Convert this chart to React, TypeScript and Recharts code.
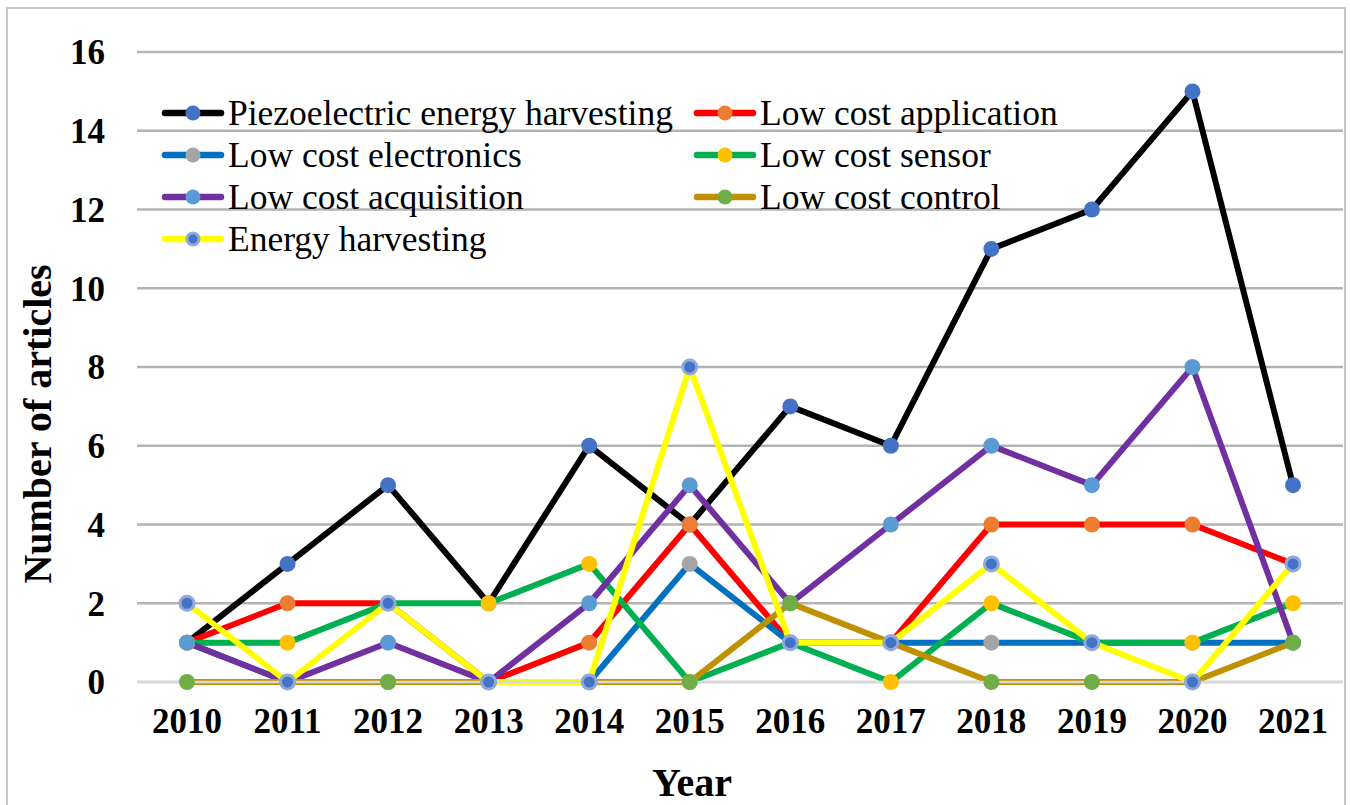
import React from "react";
import {
  LineChart,
  Line,
  XAxis,
  YAxis,
  CartesianGrid,
  Legend,
} from "recharts";

const years = ["2010", "2011", "2012", "2013", "2014", "2015", "2016", "2017", "2018", "2019", "2020", "2021"];
const yTicks = [0, 2, 4, 6, 8, 10, 12, 14, 16];

const piezoelectric = [1, 3, 5, 2, 6, 4, 7, 6, 11, 12, 15, 5];
const lowCostApplication = [1, 2, 2, 0, 1, 4, 1, 1, 4, 4, 4, 3];
const lowCostElectronics = [1, 0, 0, 0, 0, 3, 1, 1, 1, 1, 1, 1];
const lowCostSensor = [1, 1, 2, 2, 3, 0, 1, 0, 2, 1, 1, 2];
const lowCostAcquisition = [1, 0, 1, 0, 2, 5, 2, 4, 6, 5, 8, 1];
const lowCostControl = [0, 0, 0, 0, 0, 0, 2, 1, 0, 0, 0, 1];
const energyHarvesting = [2, 0, 2, 0, 0, 8, 1, 1, 3, 1, 0, 3];

type Series = {
  key: string;
  name: string;
  values: number[];
  line: string;
  marker: string;
  ring?: string;
};

const series: Series[] = [
  { key: "piezo", name: "Piezoelectric energy harvesting", values: piezoelectric, line: "#000000", marker: "#4472C4" },
  { key: "app", name: "Low cost application", values: lowCostApplication, line: "#FF0000", marker: "#ED7D31" },
  { key: "elec", name: "Low cost electronics", values: lowCostElectronics, line: "#0070C0", marker: "#A5A5A5" },
  { key: "sensor", name: "Low cost sensor", values: lowCostSensor, line: "#00B050", marker: "#FFC000" },
  { key: "acq", name: "Low cost acquisition", values: lowCostAcquisition, line: "#7030A0", marker: "#5B9BD5" },
  { key: "control", name: "Low cost control", values: lowCostControl, line: "#BF9000", marker: "#70AD47" },
  { key: "energy", name: "Energy harvesting", values: energyHarvesting, line: "#FFFF00", marker: "#4472C4", ring: "#8EA9DB" },
];

const data = years.map((year, i) => {
  const row: Record<string, string | number> = { year };
  series.forEach((s) => {
    row[s.key] = s.values[i];
  });
  return row;
});

const FONT = "'Liberation Serif', 'Times New Roman', serif";

const LegendItem = ({ s }: { s: Series }) => (
  <div style={{ display: "flex", alignItems: "center", height: 42 }}>
    <svg width={64} height={20} style={{ flex: "none" }}>
      <line x1={4} y1={10} x2={60} y2={10} stroke={s.line} strokeWidth={6.5} strokeLinecap="round" />
      <circle cx={32} cy={10} r={s.ring ? 6 : 7.5} fill={s.marker} stroke={s.ring || "none"} strokeWidth={s.ring ? 3 : 0} />
    </svg>
    <span style={{ marginLeft: 3, fontSize: 35.5, fontFamily: FONT, color: "#000", whiteSpace: "nowrap" }}>
      {s.name}
    </span>
  </div>
);

const renderLegend = () => (
  <div style={{ display: "grid", gridTemplateColumns: "532px 560px" }}>
    {series.map((s) => (
      <LegendItem key={s.key} s={s} />
    ))}
  </div>
);

export default function App() {
  return (
    <div
      style={{
        position: "absolute",
        left: 0,
        top: 0,
        width: 1350,
        height: 805,
        overflow: "hidden",
        background: "#fff",
      }}
    >
      <div
        style={{
          position: "absolute",
          left: 6,
          top: 7,
          width: 1340,
          height: 820,
          boxSizing: "border-box",
          border: "2px solid #c6c6c6",
        }}
      />
      <div style={{ position: "absolute", left: 0, top: 0 }}>
        <LineChart
          width={1350}
          height={805}
          data={data}
          margin={{ top: 52, right: 7, bottom: 0, left: 77 }}
        >
          <CartesianGrid vertical={false} stroke="#b3b3b3" strokeWidth={2.5} />
          <XAxis
            dataKey="year"
            height={123}
            padding={{ left: 50, right: 50 }}
            axisLine={{ stroke: "#d9d9d9", strokeWidth: 2.5 }}
            tickLine={false}
            tickMargin={20}
            tick={{ fontSize: 35, fontWeight: "bold", fontFamily: FONT, fill: "#000" }}
            label={{
              content: () => (
                <text x={692} y={796} textAnchor="middle" fontSize={40} fontWeight="bold" fontFamily={FONT} fill="#000">
                  Year
                </text>
              ),
            }}
          />
          <YAxis
            width={60}
            domain={[0, 16]}
            ticks={yTicks}
            axisLine={false}
            tickLine={false}
            tickMargin={26}
            tick={{ fontSize: 35, fontWeight: "bold", fontFamily: FONT, fill: "#000" }}
            label={{
              content: () => (
                <text
                  x={51}
                  y={424}
                  transform="rotate(-90 51 424)"
                  textAnchor="middle"
                  fontSize={40}
                  fontWeight="bold"
                  fontFamily={FONT}
                  fill="#000"
                >
                  Number of articles
                </text>
              ),
            }}
          />
          <Legend
            layout="vertical"
            align="center"
            verticalAlign="middle"
            content={renderLegend}
            wrapperStyle={{ top: 92, left: 161, width: 1100, height: 170 }}
          />
          {series.map((s) => (
            <Line
              key={s.key}
              type="linear"
              dataKey={s.key}
              name={s.name}
              stroke={s.line}
              strokeWidth={6}
              dot={{
                r: s.ring ? 7 : 8,
                fill: s.marker,
                stroke: s.ring || s.marker,
                strokeWidth: s.ring ? 3 : 0,
              }}
              activeDot={false}
              isAnimationActive={false}
            />
          ))}
        </LineChart>
      </div>
    </div>
  );
}
